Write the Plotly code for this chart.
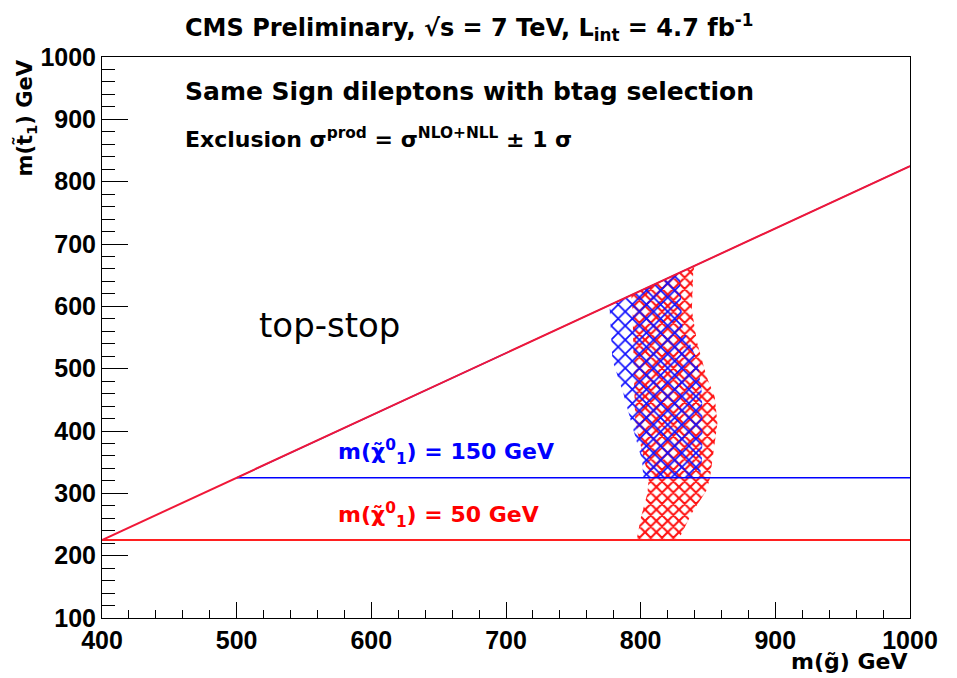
import plotly.graph_objects as go

# ---- data ----
kin_gluino = [400, 1000]          # m(gluino) along kinematic limit
kin_stop = [225, 825]             # m(stop) = m(gluino) - m(top)
kin_gluino_150 = [500, 1000]
kin_stop_150 = [325, 825]

lsp50_x = [400, 1000]
lsp50_y = [225, 225]
lsp150_x = [500, 1000]
lsp150_y = [325, 325]

# excluded band (±1 sigma) for m(chi) = 50 GeV
red_gluino = [797, 800, 805, 806, 803, 796, 795, 794, 793, 840, 839, 838, 842, 849, 855, 857, 851.5, 849, 838, 828, 797]
red_stop = [225, 260, 300, 325, 350, 413, 487, 594, 618, 665, 653, 594, 541, 487, 455, 413, 325, 305, 268, 225, 225]

# excluded band (±1 sigma) for m(chi) = 150 GeV
blue_gluino = [777, 777, 779, 787, 794, 801, 802, 844, 845.5, 846, 845.5, 842, 831, 829, 777]
blue_stop = [602, 594, 514, 461, 406, 353, 325, 325, 353, 406, 461, 514, 567, 654, 602]

x_range = [400, 1000]
y_range = [100, 1000]

FONT = "Liberation Sans, Arial, Helvetica, sans-serif"
WFONT = "DejaVu Sans, Liberation Sans, sans-serif"

# page body has an 8px margin; plot area kept at x 102..910, y 57..618 on the page
OFF = 8
PX0, PX1, PY0, PY1 = 102, 910, 57, 618


def px(xp):
    return (xp - PX0) / (PX1 - PX0)


def py(yp):
    return (PY1 - yp) / (PY1 - PY0)


fig = go.Figure()

fig.add_trace(go.Scatter(
    x=red_gluino, y=red_stop, mode="lines", fill="toself",
    line=dict(width=0, color="rgba(0,0,0,0)"),
    fillcolor="rgba(0,0,0,0)",
    fillpattern=dict(shape="x", fgcolor="#ff1010", bgcolor="rgba(0,0,0,0)",
                     fgopacity=1, size=8, solidity=0.45, fillmode="overlay"),
    hoverinfo="skip", showlegend=False))

fig.add_trace(go.Scatter(
    x=blue_gluino, y=blue_stop, mode="lines", fill="toself",
    line=dict(width=0, color="rgba(0,0,0,0)"),
    fillcolor="rgba(0,0,0,0)",
    fillpattern=dict(shape="x", fgcolor="#1010ff", bgcolor="rgba(0,0,0,0)",
                     fgopacity=1, size=10, solidity=0.32, fillmode="overlay"),
    hoverinfo="skip", showlegend=False))

fig.add_trace(go.Scatter(x=lsp150_x, y=lsp150_y, mode="lines",
                         line=dict(color="#0000ff", width=1.5),
                         hoverinfo="skip", showlegend=False))
fig.add_trace(go.Scatter(x=lsp50_x, y=lsp50_y, mode="lines",
                         line=dict(color="#ff2020", width=2),
                         hoverinfo="skip", showlegend=False))
fig.add_trace(go.Scatter(x=kin_gluino_150, y=kin_stop_150, mode="lines",
                         line=dict(color="#0000ff", width=1.2),
                         hoverinfo="skip", showlegend=False))
fig.add_trace(go.Scatter(x=kin_gluino, y=kin_stop, mode="lines",
                         line=dict(color="#f01838", width=2),
                         hoverinfo="skip", showlegend=False))

annotations = [
    dict(text="<b>CMS Preliminary, √s = 7 TeV, L<sub>int</sub> = 4.7 fb<sup>-1</sup></b>",
         xref="paper", yref="paper", x=px(469), y=py(27),
         xanchor="center", yanchor="middle", showarrow=False,
         font=dict(family=WFONT, size=24, color="black")),
    dict(text="<b>Same Sign dileptons with btag selection</b>",
         xref="x", yref="y", x=460, y=944, xanchor="left", yanchor="middle",
         showarrow=False, font=dict(family=WFONT, size=25, color="black")),
    dict(text="<b>Exclusion σ<sup>prod</sup> = σ<sup>NLO+NLL</sup> ± 1 σ</b>",
         xref="x", yref="y", x=460, y=870, xanchor="left", yanchor="middle",
         showarrow=False, font=dict(family=WFONT, size=22, color="black")),
    dict(text="top-stop",
         xref="x", yref="y", x=569, y=570, xanchor="center", yanchor="middle",
         showarrow=False, font=dict(family=WFONT, size=34, color="black")),
    dict(text="<b>m(χ̃<sup>0</sup><sub>1</sub>) = 150 GeV</b>",
         xref="x", yref="y", x=574, y=366, xanchor="left", yanchor="middle",
         showarrow=False, font=dict(family=WFONT, size=22, color="#0000ff")),
    dict(text="<b>m(χ̃<sup>0</sup><sub>1</sub>) = 50 GeV</b>",
         xref="x", yref="y", x=574, y=266, xanchor="left", yanchor="middle",
         showarrow=False, font=dict(family=WFONT, size=22, color="#ff0000")),
    dict(text="<b>m(g̃) GeV</b>",
         xref="paper", yref="paper", x=px(909), y=py(661),
         xanchor="right", yanchor="middle", showarrow=False,
         font=dict(family=WFONT, size=22, color="black")),
    dict(text="<b>m(t̃<sub>1</sub>) GeV</b>",
         xref="paper", yref="paper", x=px(26), y=py(58),
         xanchor="center", yanchor="top", textangle=-90, showarrow=False,
         font=dict(family=WFONT, size=21, color="black")),
]

axis_common = dict(
    showgrid=False, zeroline=False, showline=True, linecolor="black",
    linewidth=1, mirror=True, ticks="inside", tickcolor="black",
    automargin=False,
    tickfont=dict(family=FONT, size=25, color="black", weight="bold"),
)

fig.update_layout(
    width=957 - OFF, height=678 - OFF,
    margin=dict(l=PX0 - OFF, r=957 - PX1, t=PY0 - OFF, b=678 - PY1),
    paper_bgcolor="white", plot_bgcolor="white",
    annotations=annotations,
    xaxis=dict(range=x_range, dtick=100, tick0=400, ticklen=16,
               minor=dict(ticks="inside", ticklen=8, dtick=20, tickcolor="black"),
               **axis_common),
    yaxis=dict(range=y_range, dtick=100, tick0=100, ticklen=26,
               minor=dict(ticks="inside", ticklen=13, dtick=20, tickcolor="black"),
               **axis_common),
)

fig.write_html("out.html")
